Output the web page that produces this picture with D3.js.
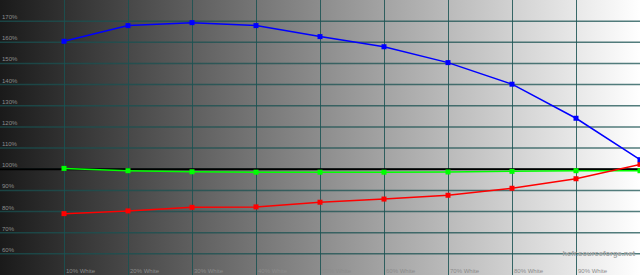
<!DOCTYPE html>
<html>
<head>
<meta charset="utf-8">
<script src="https://cdn.jsdelivr.net/npm/d3@7"></script>
<style>
  body { margin: 0; overflow: hidden; }
  svg { display: block; }
</style>
</head>
<body>
<div id="chart-area"></div>
<script>
const WIDTH = 640
const HEIGHT = 275

// levels of the grey steps (% white)
const levels = [10, 20, 30, 40, 50, 60, 70, 80, 90, 100]
// the 100% label falls off the right edge in the original, so it is not shown
const xTickLabels = ["10% White", "20% White", "30% White", "40% White", "50% White",
    "60% White", "70% White", "80% White", "90% White"]
const yTicks = [60, 70, 80, 90, 100, 110, 120, 130, 140, 150, 160, 170]

// RGB levels in %
const redValues = [79.0, 80.3, 82.0, 82.2, 84.4, 85.9, 87.7, 91.0, 95.5, 102.3]
const greenValues = [100.4, 99.3, 98.8, 98.6, 98.6, 98.6, 98.7, 99.0, 99.3, 99.3]
const blueValues = [160.5, 167.9, 169.3, 167.9, 162.7, 157.9, 150.4, 140.2, 124.1, 104.5]

const svg = d3.select("#chart-area").append("svg")
    .attr("width", WIDTH)
    .attr("height", HEIGHT)

const x = d3.scaleLinear()
    .domain([0, 100])
    .range([0, WIDTH])

const y = d3.scaleLinear()
    .domain([50, 180])
    .range([HEIGHT, 0])

// background gradient black -> white
const grad = svg.append("defs").append("linearGradient")
    .attr("id", "bg")
    .attr("x1", "0%").attr("x2", "100%")
    .attr("y1", "0%").attr("y2", "0%")
grad.append("stop").attr("offset", "0%").attr("stop-color", "#1a1a1a")
grad.append("stop").attr("offset", "100%").attr("stop-color", "#ffffff")

svg.append("rect")
    .attr("width", WIDTH)
    .attr("height", HEIGHT)
    .attr("fill", "url(#bg)")

// grid
const grid = svg.append("g")
grid.selectAll(".hgrid")
    .data(yTicks)
    .enter().append("line")
    .attr("class", "hgrid")
    .attr("x1", 0)
    .attr("x2", WIDTH)
    .attr("y1", d => y(d))
    .attr("y2", d => y(d))
    .attr("stroke", "#1a5252")
    .attr("stroke-opacity", 0.75)
    .attr("stroke-width", 1.5)

grid.selectAll(".vgrid")
    .data(levels)
    .enter().append("line")
    .attr("class", "vgrid")
    .attr("x1", d => Math.round(x(d)) + 0.5)
    .attr("x2", d => Math.round(x(d)) + 0.5)
    .attr("y1", 0)
    .attr("y2", HEIGHT)
    .attr("stroke", "#1a5252")
    .attr("stroke-opacity", 0.85)
    .attr("stroke-width", 1)

// reference line at 100%
svg.append("line")
    .attr("x1", 0)
    .attr("x2", WIDTH)
    .attr("y1", y(100))
    .attr("y2", y(100))
    .attr("stroke", "#000")
    .attr("stroke-width", 2)

// axis labels
svg.selectAll(".ylabel")
    .data(yTicks)
    .enter().append("text")
    .attr("class", "ylabel")
    .attr("x", 2)
    .attr("y", d => y(d) - 2)
    .attr("font-family", "Arial, 'Liberation Sans', sans-serif")
    .attr("font-size", "6px")
    .attr("fill", "#8c8c8c")
    .text(d => d + "%")

svg.selectAll(".xlabel")
    .data(xTickLabels)
    .enter().append("text")
    .attr("class", "xlabel")
    .attr("x", (d, i) => x(levels[i]) + 2)
    .attr("y", 273)
    .attr("font-family", "Arial, 'Liberation Sans', sans-serif")
    .attr("font-size", "6px")
    .attr("fill", "#8c8c8c")
    .text(d => d)

svg.append("text")
    .attr("x", 635)
    .attr("y", 256)
    .attr("text-anchor", "end")
    .attr("font-family", "Arial, 'Liberation Sans', sans-serif")
    .attr("font-size", "7.5px")
    .attr("font-weight", "bold")
    .attr("fill", "#a6a6a6")
    .text("hcfr.sourceforge.net")

// series
const series = [
    { name: "green", color: "#00ff00", values: greenValues },
    { name: "red", color: "#ff0000", values: redValues },
    { name: "blue", color: "#0000ff", values: blueValues }
]

const line = d3.line()
    .x((d, i) => x(levels[i]))
    .y(d => y(d))

series.forEach(s => {
    svg.append("path")
        .datum(s.values)
        .attr("fill", "none")
        .attr("stroke", s.color)
        .attr("stroke-width", 1.5)
        .attr("d", line)

    svg.selectAll(".pt-" + s.name)
        .data(s.values)
        .enter().append("rect")
        .attr("class", "pt-" + s.name)
        .attr("x", (d, i) => x(levels[i]) - 2.5)
        .attr("y", d => y(d) - 2.5)
        .attr("width", 5)
        .attr("height", 5)
        .attr("fill", s.color)
})
</script>
</body>
</html>
